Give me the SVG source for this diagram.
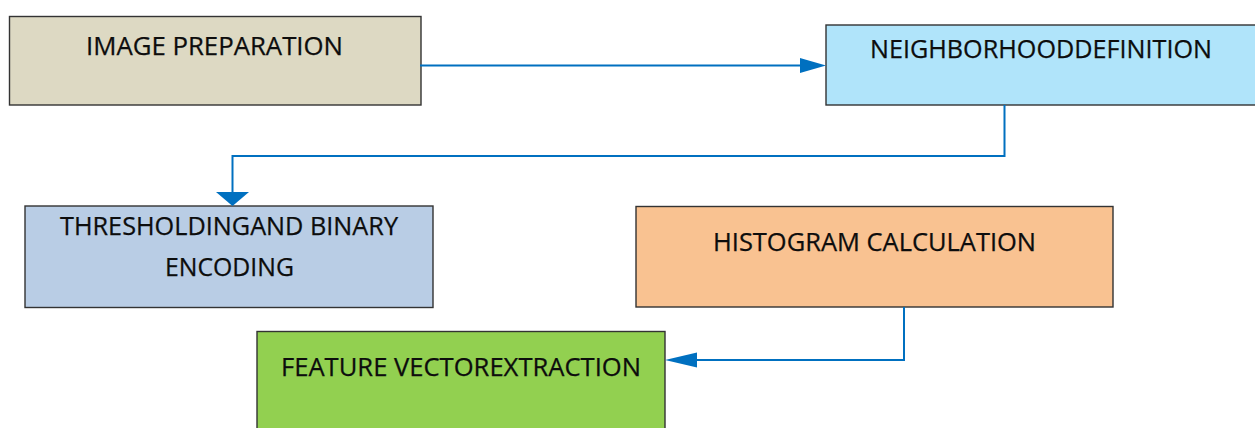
<svg xmlns="http://www.w3.org/2000/svg" width="1255" height="428" viewBox="0 0 1255 428">
  <style>
    .box { stroke: #333333; stroke-width: 1.4; }
    .lbl { font-family: "Open Sans", "Liberation Sans", sans-serif; font-size: 25px; fill: #0d0d0d; stroke: #0d0d0d; stroke-width: 0.25; }
    .conn { fill: none; stroke: #0070C0; stroke-width: 2; }
    .head { fill: #0070C0; }
  </style>
  <rect width="1255" height="428" fill="#ffffff"/>
  <g id="image-preparation">
    <rect class="box" x="9.5" y="16.5" width="411.5" height="88.5" fill="#DDD9C3"/>
    <text class="lbl" x="86" y="55" textLength="257" lengthAdjust="spacingAndGlyphs">IMAGE PREPARATION</text>
  </g>
  <g id="neighborhood-definition">
    <rect class="box" x="826" y="25" width="430" height="80" fill="#B0E4FA"/>
    <text class="lbl" x="870" y="57.5" textLength="342" lengthAdjust="spacingAndGlyphs">NEIGHBORHOODDEFINITION</text>
  </g>
  <g id="thresholding">
    <rect class="box" x="25" y="206" width="408" height="101.5" fill="#B9CDE5"/>
    <text class="lbl" x="60" y="234.5" textLength="338" lengthAdjust="spacingAndGlyphs">THRESHOLDINGAND BINARY</text>
    <text class="lbl" x="165" y="276" textLength="129" lengthAdjust="spacingAndGlyphs">ENCODING</text>
  </g>
  <g id="histogram-calculation">
    <rect class="box" x="636" y="206.5" width="477" height="100.5" fill="#F9C291"/>
    <text class="lbl" x="713" y="251" textLength="323" lengthAdjust="spacingAndGlyphs">HISTOGRAM CALCULATION</text>
  </g>
  <g id="feature-vector-extraction">
    <rect class="box" x="257" y="331.5" width="408" height="110" fill="#92D050"/>
    <text class="lbl" x="281" y="376" textLength="360" lengthAdjust="spacingAndGlyphs">FEATURE VECTOREXTRACTION</text>
  </g>
  <g id="connectors">
    <line class="conn" x1="420" y1="65.5" x2="802" y2="65.5"/>
    <polygon class="head" points="800,58 826,65.5 800,73"/>
    <polyline class="conn" points="1004.5,105 1004.5,156 232.5,156"/>
    <line class="conn" x1="232.5" y1="155" x2="232.5" y2="194" stroke-width="3"/>
    <polygon class="head" points="216,192 249,192 232.5,206"/>
    <polyline class="conn" points="904,307 904,360 695,360"/>
    <polygon class="head" points="697,352.5 665,360 697,367.5"/>
  </g>
</svg>
